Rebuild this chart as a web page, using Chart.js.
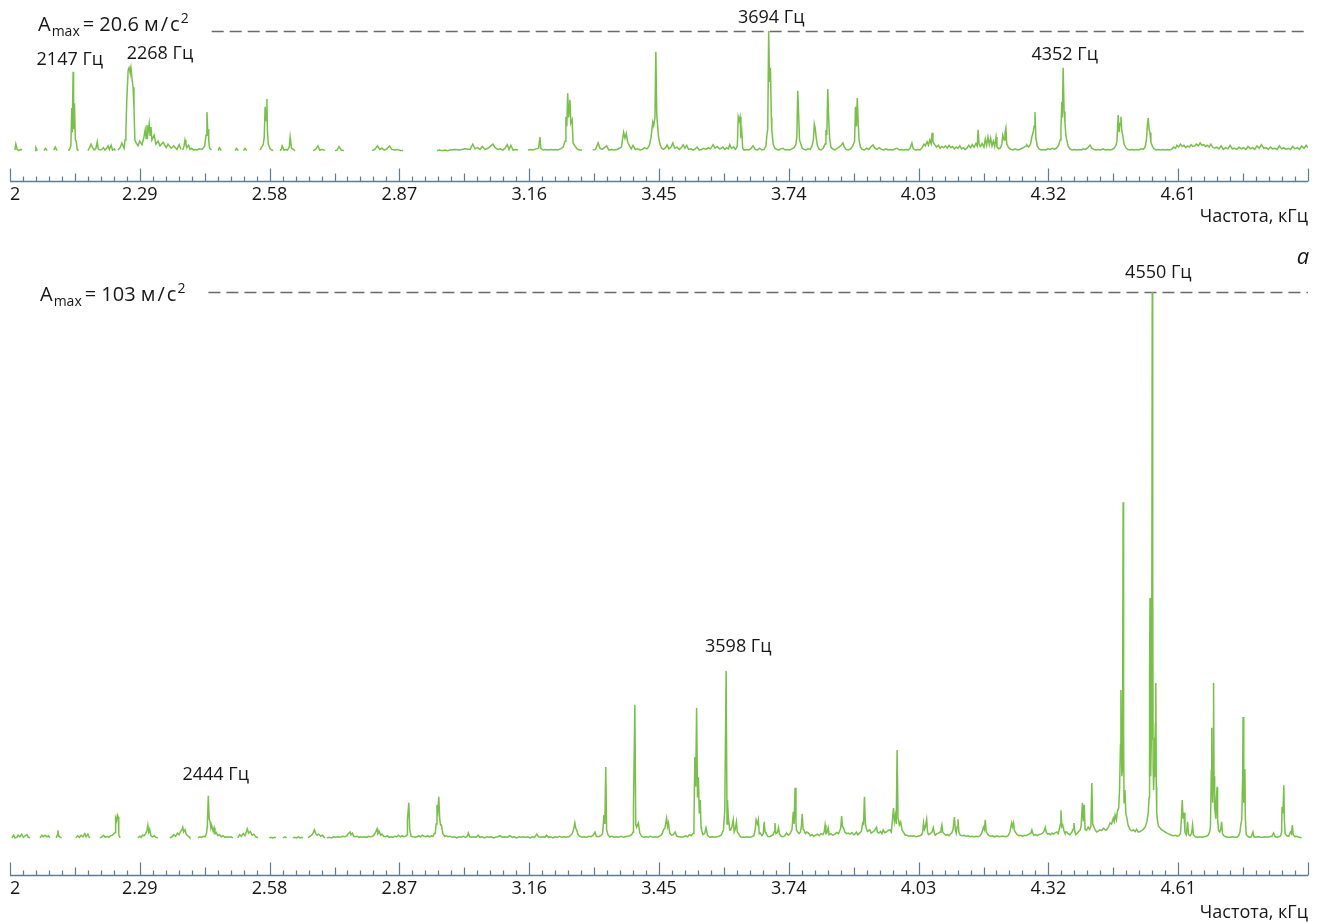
<!DOCTYPE html>
<html lang="ru">
<head>
<meta charset="utf-8">
<title>Спектры ускорений</title>
<script src="https://cdn.jsdelivr.net/npm/chart.js@4.4.1/dist/chart.umd.min.js"></script>
<style>
  html, body { margin: 0; padding: 0; background: #fff; overflow: hidden; }
  .panel { position: absolute; left: 0; width: 1319px; }
  #topPanel { top: 0; height: 235px; }
  #bottomPanel { top: 240px; height: 690px; }
</style>
</head>
<body>
<div class="panel" id="topPanel"><canvas id="topChart"></canvas></div>
<div class="panel" id="bottomPanel"><canvas id="bottomChart"></canvas></div>
<script>
// x axis, kHz
const freqMin = 2;
const freqMax = 4.9;
const tickStep = 0.029;
const tickLabels = ['2', '2.29', '2.58', '2.87', '3.16', '3.45', '3.74', '4.03', '4.32', '4.61'];
const axisTitle = 'Частота, кГц';

// peak amplitudes, m/s^2
const topAmax = 20.6;
const bottomAmax = 103;

// labelled peaks, Hz
const topPeaks = [2147, 2268, 3694, 4352];
const bottomPeaks = [2444, 3598, 4550];

// spectrum traces: [Hz, m/s^2], null = no data
const topTrace = [
  [2011,0.5],[2013,1.5],[2016,0.6],[2020,0.4],[2024,0.6],[2027,0.5],[2028,null],
  [2056,0.4],[2058,0.9],[2061,0.4],[2062,null],
  [2076,0.4],[2079,0.8],[2083,0.4],[2084,null],
  [2098,0.5],[2101,1.0],[2105,0.4],[2106,null],
  [2130,0.4],[2133,0.6],[2136,1.2],[2138,7.6],[2139,3.5],[2141,13.7],[2142,4.0],[2144,8.4],[2146,2.2],[2148,2.0],[2150,0.6],[2153,0.4],[2154,null],
  [2174,0.4],[2178,0.9],[2181,1.5],[2184,1.0],[2188,0.5],[2192,0.8],[2195,1.9],[2197,0.7],[2201,0.5],[2205,0.6],[2209,0.9],[2212,0.5],[2216,0.8],[2219,1.2],[2222,0.6],[2226,1.3],[2229,0.5],[2233,0.7],[2235,0.4],[2236,null],
  [2241,0.5],[2246,0.9],[2250,1.7],[2255,0.8],[2257,2.2],[2259,3.9],[2261,9.0],[2264,14.0],[2266,14.4],[2268,13.7],[2270,14.5],[2273,12.3],[2275,11.1],[2277,7.6],[2279,2.2],[2282,1.7],[2286,1.2],[2290,2.0],[2295,1.4],[2299,2.6],[2302,3.9],[2304,2.5],[2306,4.7],[2308,3.2],[2311,5.0],[2313,3.0],[2315,4.4],[2317,2.2],[2322,3.0],[2326,1.5],[2331,2.0],[2335,1.2],[2342,1.8],[2349,0.9],[2353,1.5],[2360,0.8],[2366,1.2],[2373,0.6],[2378,1.4],[2382,0.6],[2384,null],
  [2386,0.5],[2389,1.2],[2391,2.2],[2393,1.5],[2396,1.0],[2399,1.3],[2402,0.6],[2406,0.8],[2410,0.5],[2413,0.6],[2418,0.5],[2423,0.7],[2429,0.6],[2435,1.2],[2438,3.0],[2440,6.9],[2442,3.4],[2443,4.0],[2444,2.0],[2446,0.8],[2450,0.5],[2451,null],
  [2465,0.4],[2468,0.9],[2472,0.4],[2473,null],
  [2503,0.4],[2506,0.8],[2510,0.4],[2514,null],[2522,0.4],[2525,0.8],[2529,0.4],[2530,null],
  [2559,0.5],[2562,1.0],[2564,1.2],[2566,1.5],[2568,2.6],[2570,7.8],[2572,5.5],[2574,9.1],[2575,4.0],[2577,1.5],[2581,0.7],[2585,0.5],[2588,0.4],[2589,null],
  [2603,0.4],[2606,0.6],[2608,1.2],[2612,0.5],[2616,0.6],[2620,0.5],[2624,1.0],[2626,2.7],[2629,0.8],[2633,0.6],[2637,0.4],[2638,null],
  [2677,0.4],[2683,0.6],[2688,1.2],[2692,0.5],[2698,0.6],[2704,0.4],[2705,null],
  [2726,0.4],[2731,0.5],[2735,1.1],[2740,0.5],[2746,0.4],[2747,null],
  [2809,0.4],[2815,0.6],[2821,1.2],[2826,0.6],[2831,0.8],[2836,0.5],[2842,0.7],[2848,1.2],[2853,0.6],[2860,0.5],[2866,0.6],[2872,0.4],[2878,0.4],[2879,null],
  [2954,0.4],[2960,0.5],[2966,0.4],[2972,0.5],[2978,0.4],[2983,0.5],[2994,0.6],[3005,0.5],[3016,0.7],[3028,0.6],[3034,1.5],[3039,0.7],[3045,0.9],[3050,0.6],[3055,1.1],[3061,0.6],[3068,0.8],[3074,1.2],[3079,1.5],[3084,0.9],[3090,0.6],[3095,0.7],[3101,0.5],[3106,0.8],[3111,1.4],[3115,0.6],[3119,1.3],[3124,0.5],[3130,0.6],[3135,0.5],[3136,null],
  [3157,0.5],[3163,0.6],[3169,0.5],[3175,0.7],[3181,0.8],[3184,2.7],[3186,0.8],[3191,0.5],[3196,0.6],[3202,0.5],[3208,0.6],[3213,0.5],[3218,0.6],[3224,0.5],[3230,0.7],[3236,1.0],[3240,2.0],[3242,6.1],[3244,4.5],[3246,10.1],[3248,6.0],[3251,9.0],[3253,5.0],[3256,5.6],[3258,1.7],[3262,1.2],[3267,0.7],[3272,0.5],[3278,0.5],[3280,null],
  [3302,0.5],[3308,0.6],[3314,1.7],[3318,0.8],[3323,0.6],[3328,0.9],[3333,1.2],[3338,0.5],[3344,0.6],[3350,0.5],[3356,0.6],[3362,0.8],[3366,1.0],[3369,2.5],[3371,3.5],[3374,2.5],[3377,3.3],[3380,1.8],[3384,1.2],[3388,0.7],[3392,1.3],[3397,0.6],[3402,0.7],[3408,0.5],[3413,0.6],[3418,0.9],[3423,0.7],[3428,1.2],[3432,2.5],[3436,5.2],[3438,4.6],[3441,6.0],[3443,17.1],[3445,6.4],[3447,4.5],[3449,2.7],[3452,1.5],[3456,0.8],
  [3460,0.6],[3465,0.9],[3468,1.35],[3472,0.7],[3477,1.0],[3481,1.7],[3485,0.8],[3490,1.0],[3495,0.6],[3500,0.9],[3504,1.4],[3508,0.8],[3512,1.3],[3516,0.6],[3521,0.7],[3526,0.5],[3531,0.7],[3535,1.0],[3540,0.5],[3545,0.6],[3550,0.8],[3555,0.6],[3560,0.9],[3565,0.7],[3571,1.4],[3575,0.8],[3580,1.1],[3585,0.7],[3589,0.8],[3593,1.0],[3597,0.6],[3601,0.9],[3605,0.7],[3608,1.4],[3612,0.8],[3617,1.0],[3621,0.6],[3625,1.2],[3627,6.1],[3629,5.5],[3631,6.1],[3633,2.5],[3635,3.5],[3637,0.8],[3640,0.5],
  [3645,0.6],[3650,0.5],[3655,0.7],[3660,1.2],[3665,0.6],[3670,0.5],[3675,0.8],[3680,0.5],[3685,0.6],[3689,1.2],[3691,3.0],[3693,4.0],[3695,20.6],[3697,12.0],[3699,14.4],[3701,6.0],[3702,3.9],[3705,1.5],[3709,0.8],[3713,0.6],
  [3718,0.5],[3722,0.7],[3727,0.8],[3732,0.5],[3737,0.6],[3742,0.5],[3747,0.7],[3752,0.9],[3756,1.5],[3758,2.7],[3760,10.5],[3762,6.5],[3764,2.2],[3767,1.5],[3770,0.8],[3774,0.6],[3778,0.5],[3783,0.7],[3788,0.6],[3792,1.2],[3795,2.2],[3797,4.9],[3799,4.2],[3801,2.7],[3804,1.2],[3808,0.6],[3812,0.5],
  [3817,0.8],[3821,1.5],[3823,3.9],[3825,3.0],[3827,10.8],[3829,6.0],[3831,2.7],[3834,1.0],[3838,0.7],[3843,0.5],[3848,0.8],[3852,1.0],[3857,1.3],[3861,1.7],[3864,1.0],[3868,0.6],[3873,0.5],[3878,0.7],[3883,1.2],[3887,2.0],[3889,7.8],[3891,4.5],[3893,9.3],[3895,5.0],[3897,2.2],[3900,1.0],[3904,0.6],[3909,0.5],
  [3914,0.8],[3919,0.6],[3923,1.0],[3928,1.35],[3932,0.8],[3937,0.6],[3942,0.9],[3947,0.6],[3952,0.5],[3957,0.7],[3962,0.5],[3967,0.6],[3972,0.5],[3977,0.7],[3982,0.8],[3987,0.5],[3992,0.6],[3997,0.5],[4002,0.6],[4007,0.5],[4011,0.8],[4015,1.7],[4018,0.7],[4023,0.5],[4028,0.6],[4033,0.5],[4038,0.9],[4042,1.5],[4045,1.2],[4049,1.9],[4052,1.3],[4055,2.2],[4058,1.6],[4060,3.4],[4062,1.9],[4066,1.4],[4070,1.0],[4074,1.3],[4078,0.8],[4082,1.1],[4086,0.9],[4090,1.2],[4094,0.8],[4098,1.3],[4102,0.9],[4106,1.1],[4110,0.7],[4114,1.0],[4118,0.8],[4122,1.2],[4126,0.7],[4130,0.9],[4134,0.6],[4138,0.8],[4142,1.3],[4146,0.9],[4150,1.4],[4154,1.0],[4158,1.6],[4161,1.2],[4163,3.9],[4165,1.5],[4168,1.1],[4172,1.6],[4176,1.0],[4179,2.4],[4182,1.3],[4185,2.7],[4188,1.4],[4191,2.5],[4194,1.2],[4197,2.0],[4200,1.1],[4203,2.7],[4205,1.0],[4209,0.7],[4213,0.9],[4216,1.5],[4218,3.0],[4221,2.2],[4223,3.4],[4225,4.2],[4227,1.5],[4231,0.9],[4236,0.6],[4241,0.5],[4246,0.7],[4251,0.5],[4256,0.6],[4261,0.8],[4266,1.0],[4270,1.2],[4272,1.35],[4276,1.0],[4280,1.5],[4283,2.7],[4286,3.5],[4288,4.5],[4290,6.9],[4292,2.5],[4295,1.2],[4299,0.7],
  [4304,0.5],[4309,0.6],[4314,0.5],[4319,0.7],[4324,0.6],[4329,0.8],[4334,0.6],[4339,0.9],[4343,1.3],[4346,2.2],[4348,4.0],[4350,8.6],[4351,6.0],[4353,14.4],[4355,7.0],[4357,5.1],[4359,3.0],[4361,2.2],[4364,1.2],[4368,0.7],[4373,0.5],[4378,0.6],[4383,0.5],[4388,0.6],[4393,0.5],[4398,0.7],[4403,0.6],[4408,0.9],[4413,1.35],[4417,0.8],[4422,0.6],[4427,0.5],[4432,0.6],[4437,0.5],[4442,0.7],[4447,0.5],[4452,0.6],[4457,0.5],[4462,0.6],[4467,0.8],[4471,1.3],[4473,1.9],[4475,5.0],[4476,6.4],[4478,3.5],[4480,5.0],[4482,6.1],[4484,3.8],[4486,3.0],[4489,1.5],[4493,0.9],[4497,0.6],
  [4502,0.5],[4507,0.6],[4512,0.5],[4517,0.6],[4522,0.5],[4527,0.7],[4532,0.6],[4536,1.0],[4539,2.2],[4541,4.5],[4543,5.9],[4545,4.0],[4547,3.4],[4549,1.8],[4552,1.2],[4556,0.7],[4561,0.5],[4566,0.6],[4571,0.5],[4576,0.6],[4581,0.5],[4586,0.6],[4591,0.5],[4596,0.7],[4600,1.0],[4604,0.8],[4607,1.3],[4611,1.0],[4615,1.5],[4619,1.1],[4623,1.3],[4627,0.9],[4631,1.2],[4635,1.0],[4639,1.4],[4643,1.1],[4647,1.2],[4651,1.5],[4655,1.2],[4659,1.7],[4663,1.3],[4667,1.4],[4671,1.1],[4675,1.3],[4679,1.0],[4683,1.5],[4687,1.0],[4691,0.8],[4696,1.0],
  [4701,0.7],[4706,1.2],[4711,0.6],[4716,0.9],[4721,0.7],[4726,1.3],[4731,0.7],[4736,0.8],[4741,0.6],[4746,1.0],[4751,0.7],[4756,0.9],[4761,0.6],[4766,1.1],[4771,0.7],[4776,0.9],[4781,0.6],[4786,1.2],[4791,0.8],[4796,1.4],[4801,0.8],[4806,0.9],[4811,0.6],[4816,1.0],[4821,0.7],[4826,0.8],[4831,0.6],[4836,1.2],[4841,0.7],[4846,0.9],[4851,0.6],[4856,0.8],[4861,0.6],[4866,1.1],[4871,0.7],[4876,0.9],[4881,0.6],[4886,1.2],[4891,0.8],[4896,1.3],[4900,0.9]
];

const bottomTrace = [
  [2004,0.4],[2008,0.9],[2011,0.4],[2015,0.5],[2018,0.9],[2022,0.6],[2026,1.1],[2030,0.5],[2034,0.8],[2038,1.0],[2041,0.5],[2045,0.4],[2046,null],
  [2067,0.4],[2071,0.9],[2074,0.6],[2078,0.9],[2082,0.6],[2086,0.8],[2089,0.4],[2090,null],
  [2103,0.4],[2106,1.0],[2107,1.8],[2109,0.7],[2113,0.5],[2116,0.4],[2117,null],
  [2147,0.4],[2151,0.8],[2155,0.5],[2159,0.9],[2163,0.6],[2167,1.2],[2170,0.6],[2174,1.1],[2177,0.5],[2179,0.4],[2180,null],
  [2201,0.4],[2205,0.6],[2209,0.9],[2213,0.5],[2217,0.7],[2221,0.5],[2225,0.8],[2229,0.9],[2232,1.2],[2235,1.4],[2236,4.1],[2238,3.6],[2240,4.7],[2242,4.3],[2243,1.0],[2246,0.4],[2247,null],
  [2286,0.4],[2290,0.7],[2293,0.5],[2296,0.9],[2300,0.8],[2303,1.2],[2306,1.8],[2308,2.8],[2310,1.5],[2312,2.0],[2315,0.8],[2318,0.6],[2322,0.8],[2326,0.5],[2331,0.4],[2332,null],
  [2357,0.4],[2362,0.6],[2366,1.0],[2370,0.7],[2374,1.3],[2378,1.0],[2381,1.6],[2384,1.9],[2386,2.4],[2388,1.5],[2391,1.9],[2394,1.0],[2397,0.8],[2400,0.6],[2402,0.4],[2403,null],
  [2420,0.4],[2424,0.6],[2428,0.5],[2432,0.7],[2436,0.6],[2439,1.2],[2441,2.8],[2443,8.3],[2445,4.0],[2447,3.4],[2449,2.2],[2451,2.6],[2454,1.6],[2456,2.3],[2458,1.2],[2461,1.4],[2464,0.8],[2468,1.0],[2472,0.6],[2476,0.8],[2480,0.5],[2485,0.6],[2490,0.5],[2494,0.6],[2498,0.4],[2499,null],
  [2509,0.4],[2513,1.0],[2517,0.7],[2521,1.2],[2525,0.8],[2528,1.5],[2530,2.1],[2533,1.3],[2537,1.6],[2541,0.9],[2545,1.1],[2549,0.6],[2554,0.4],[2555,null],
  [2579,0.4],[2583,0.5],[2587,0.4],[2591,0.5],[2594,0.4],[2595,null],
  [2610,0.4],[2614,0.6],[2618,0.4],[2619,null],
  [2632,0.4],[2636,0.5],[2640,0.4],[2644,0.6],[2648,0.4],[2652,0.5],[2655,0.4],[2656,null],
  [2666,0.4],[2670,0.7],[2674,0.9],[2677,1.3],[2680,1.9],[2683,1.2],[2686,0.9],[2690,1.1],[2694,0.7],[2698,0.9],[2702,0.5],[2704,0.4],[2705,null],
  [2708,0.4],[2713,0.5],[2718,0.4],[2723,0.6],[2728,0.5],[2733,0.6],[2738,0.5],[2743,0.7],[2748,0.6],[2753,0.8],[2756,1.2],[2760,1.5],[2762,1.0],[2765,1.3],[2768,0.7],[2772,0.6],[2776,0.7],[2780,0.5],[2784,0.6],[2788,0.5],[2792,0.6],[2797,0.5],[2801,0.7],[2805,0.6],[2810,0.7],[2814,1.0],[2817,1.5],[2820,2.1],[2822,1.2],[2825,1.6],[2828,0.9],[2831,1.1],[2835,0.7],[2839,0.6],[2843,0.8],[2847,0.5],[2851,0.6],[2855,0.5],[2860,0.7],[2864,0.6],[2868,0.9],[2872,0.6],[2876,0.8],[2880,0.6],[2884,0.7],[2887,1.0],[2888,3.8],[2891,7.0],[2893,2.0],[2896,0.7],
  [2900,0.6],[2905,0.5],[2909,0.6],[2913,0.8],[2917,0.6],[2921,0.9],[2925,0.7],[2929,0.6],[2933,0.8],[2937,0.6],[2941,0.8],[2945,0.7],[2948,1.2],[2950,1.2],[2952,3.0],[2954,6.6],[2956,5.5],[2958,8.1],[2960,4.0],[2962,2.8],[2964,2.8],[2967,1.2],[2971,0.7],[2975,0.8],[2979,0.6],[2983,0.7],
  [2988,0.5],[2993,0.6],[2998,0.4],[3003,0.6],[3008,0.5],[3013,0.7],[3018,0.5],[3022,0.8],[3024,1.3],[3027,0.6],[3032,0.5],[3036,0.6],[3041,0.5],[3046,0.9],[3050,0.5],[3055,0.6],[3060,0.4],[3065,0.6],[3070,0.5],[3075,0.6],[3080,0.4],[3085,0.5],[3090,0.6],[3095,0.8],[3100,0.5],[3105,0.6],[3110,0.5],[3117,0.8],[3122,0.5],[3127,0.6],[3132,0.4],[3137,0.6],[3142,0.5],[3147,0.6],[3152,0.5],[3157,0.6],[3162,0.4],[3167,0.6],[3172,0.5],[3177,1.1],[3181,0.6],[3186,0.5],[3191,0.6],[3195,0.5],[3199,0.9],
  [3203,0.5],[3208,0.6],[3213,0.4],[3218,0.6],[3223,0.5],[3228,0.7],[3233,0.5],[3238,0.6],[3243,0.5],[3248,0.6],[3252,0.8],[3256,1.2],[3259,1.9],[3262,3.2],[3264,2.2],[3266,1.9],[3269,1.0],[3273,0.7],[3278,0.5],[3283,0.6],[3288,0.5],[3293,0.7],[3298,0.6],[3303,0.9],[3307,1.5],[3310,0.7],[3315,0.6],[3320,0.8],[3324,1.2],[3327,4.7],[3329,3.0],[3331,13.7],[3333,1.9],[3336,1.0],[3340,0.6],[3345,0.7],[3350,0.5],[3355,0.6],[3360,0.5],[3365,0.7],[3370,0.5],[3375,0.6],[3380,0.7],[3385,0.8],[3389,1.0],[3392,1.5],[3393,6.6],[3396,25.4],[3398,3.0],[3400,2.4],[3402,2.8],[3404,3.2],[3407,1.3],
  [3411,0.7],[3416,0.5],[3421,0.6],[3426,0.5],[3431,0.7],[3436,0.5],[3441,0.6],[3446,0.5],[3451,0.7],[3456,1.0],[3460,1.9],[3463,2.2],[3467,4.1],[3469,2.5],[3471,3.2],[3474,1.3],[3478,0.9],[3482,1.0],[3486,1.5],[3490,0.7],[3495,0.6],[3500,0.5],[3505,0.6],[3510,0.8],[3514,0.6],[3518,1.0],[3522,0.8],[3526,1.2],[3528,2.0],[3530,15.6],[3532,10.0],[3534,24.8],[3536,8.0],[3538,11.8],[3540,5.0],[3542,7.5],[3544,2.5],[3545,1.9],[3548,1.0],[3552,1.2],[3555,2.3],[3558,1.0],[3561,0.7],[3564,0.5],[3569,0.6],[3574,0.5],[3579,0.6],[3584,0.7],[3589,0.9],[3594,1.9],[3597,5.6],[3600,31.8],[3602,3.0],[3603,7.5],[3605,4.1],[3608,1.9],
  [3610,1.9],[3613,2.5],[3616,3.8],[3618,1.5],[3620,1.9],[3623,3.4],[3625,1.5],[3627,1.3],[3632,0.6],[3637,0.5],[3642,0.5],[3647,0.6],[3652,0.5],[3657,0.6],[3662,0.8],[3665,2.0],[3667,3.8],[3670,3.0],[3672,3.8],[3674,1.2],[3676,1.3],[3680,0.8],[3683,1.2],[3685,3.4],[3687,1.5],[3689,1.3],[3693,0.7],[3697,0.6],[3701,0.8],[3705,1.0],[3707,1.5],[3709,3.2],[3711,1.2],[3713,1.3],[3715,1.5],[3717,2.3],[3719,1.2],[3723,0.7],[3727,0.6],[3731,0.8],[3735,1.3],[3739,0.9],[3743,1.2],[3747,1.9],[3750,5.3],[3752,3.0],[3754,9.8],[3756,3.5],[3757,1.9],[3760,1.5],[3763,1.2],[3766,1.5],[3768,2.5],[3770,4.9],[3772,2.0],[3774,1.9],[3777,1.2],[3780,1.5],[3784,1.3],[3788,0.8],[3792,1.0],[3796,0.7],
  [3800,0.9],[3804,1.1],[3808,0.8],[3812,1.2],[3816,1.0],[3819,1.5],[3821,2.8],[3823,1.2],[3825,1.3],[3828,2.3],[3830,1.0],[3834,1.2],[3838,0.9],[3843,1.1],[3847,1.4],[3851,1.2],[3854,1.8],[3856,2.2],[3858,4.5],[3860,2.5],[3862,2.4],[3865,1.5],[3869,1.2],[3873,1.3],[3877,1.1],[3881,1.4],[3885,1.0],[3889,1.2],[3891,1.5],[3894,1.0],[3898,1.3],[3902,1.6],[3905,3.2],[3907,3.0],[3909,8.1],[3911,3.2],[3913,2.2],[3916,1.6],[3919,1.8],[3921,1.9],[3924,1.3],[3928,1.5],[3932,1.8],[3934,2.2],[3936,2.4],[3938,1.5],[3941,1.3],[3945,1.6],[3948,1.2],[3951,1.9],[3954,1.4],[3958,1.5],[3962,1.8],[3966,1.9],[3969,1.5],[3972,4.1],[3974,6.0],[3976,3.5],[3979,5.0],[3980,3.0],[3982,16.9],[3984,4.0],[3985,3.8],[3987,2.8],[3990,3.4],[3993,1.9],[3996,1.5],
  [4000,0.9],[4004,0.9],[4008,0.7],[4012,0.8],[4016,0.7],[4020,0.8],[4024,0.6],[4028,0.7],[4033,0.8],[4037,1.0],[4039,1.5],[4041,3.2],[4043,2.0],[4045,2.4],[4048,3.9],[4050,1.5],[4052,1.0],[4056,1.2],[4060,1.5],[4063,2.3],[4065,1.3],[4067,0.9],[4071,1.2],[4074,1.3],[4078,1.5],[4080,2.0],[4082,2.8],[4084,1.5],[4087,1.2],[4090,0.9],[4094,1.0],[4098,0.8],[4102,1.2],[4104,1.3],[4107,2.0],[4110,4.3],[4112,2.0],[4114,1.3],[4116,2.5],[4118,3.9],[4120,1.5],[4123,0.9],[4127,0.8],[4131,0.9],[4136,0.7],[4141,0.8],[4145,0.6],[4149,0.7],[4154,0.6],[4159,0.7],[4164,0.6],[4168,0.9],[4171,1.3],[4175,2.4],[4177,2.0],[4179,3.8],[4181,1.5],[4183,1.3],[4186,0.9],[4190,0.7],[4195,0.8],
  [4200,0.6],[4205,0.8],[4210,0.6],[4215,0.7],[4220,0.7],[4225,0.6],[4230,0.8],[4234,1.5],[4236,2.4],[4238,3.2],[4240,2.5],[4242,3.2],[4244,1.8],[4246,1.5],[4250,1.0],[4254,0.8],[4258,0.9],[4262,0.7],[4266,0.9],[4270,0.8],[4274,1.0],[4279,1.2],[4281,1.4],[4283,1.9],[4285,1.3],[4287,0.9],[4291,1.0],[4295,0.8],[4299,1.0],[4303,1.1],[4307,1.3],[4310,1.6],[4313,2.4],[4315,1.5],[4318,1.1],[4321,1.2],[4324,1.0],[4328,1.3],[4332,1.1],[4336,1.4],[4339,1.5],[4342,1.2],[4345,2.3],[4347,3.0],[4348,5.6],[4350,2.5],[4352,2.8],[4355,1.7],[4357,1.3],[4361,1.5],[4364,1.2],[4368,1.0],[4372,1.4],[4375,2.0],[4377,3.2],[4379,1.6],[4381,1.0],[4385,1.3],[4388,1.6],[4391,1.9],[4393,2.5],[4396,7.0],[4398,3.5],
  [4400,6.6],[4402,2.0],[4405,1.8],[4409,2.4],[4412,2.0],[4415,2.6],[4417,10.7],[4419,3.0],[4422,2.4],[4425,1.8],[4428,1.5],[4432,1.7],[4435,1.9],[4439,1.8],[4443,2.2],[4447,1.9],[4450,1.9],[4454,2.4],[4458,3.2],[4461,3.0],[4465,4.1],[4467,3.5],[4469,4.7],[4472,3.8],[4474,5.3],[4477,6.0],[4479,9.4],[4481,18.0],[4482,28.2],[4484,12.0],[4485,13.0],[4486,30.0],[4487,63.5],[4488,20.0],[4489,7.0],[4491,9.4],[4493,5.0],[4495,4.3],[4498,2.8],
  [4502,2.0],[4506,1.7],[4510,1.9],[4514,1.6],[4517,2.0],[4521,1.5],[4525,1.6],[4529,1.8],[4532,2.0],[4536,2.4],[4540,3.4],[4543,5.1],[4545,8.0],[4546,30.0],[4547,45.5],[4548,25.0],[4549,12.0],[4550,19.0],[4551,40.0],[4552,103],[4553,50.0],[4554,14.0],[4555,9.4],[4556,12.0],[4557,19.2],[4558,14.0],[4559,22.0],[4560,29.5],[4561,10.0],[4562,5.1],[4564,3.5],[4566,2.6],[4569,2.3],[4573,1.9],[4577,1.7],[4581,1.5],[4585,1.3],[4590,1.1],[4595,0.9],
  [4600,0.8],[4604,0.9],[4608,0.7],[4612,0.8],[4615,1.2],[4617,3.8],[4619,7.5],[4621,4.0],[4623,5.1],[4625,1.5],[4628,1.0],[4631,3.4],[4633,1.0],[4637,0.8],[4640,1.3],[4642,2.8],[4644,1.0],[4648,0.6],[4653,0.5],[4658,0.6],[4663,0.5],[4668,0.6],[4673,0.7],[4677,0.9],[4680,1.5],[4682,2.4],[4684,13.0],[4685,21.1],[4686,10.0],[4687,7.0],[4688,15.0],[4689,29.5],[4690,12.0],[4691,6.0],[4692,6.0],[4694,4.0],[4695,7.5],[4697,10.0],[4698,4.0],
  [4700,1.8],[4703,1.5],[4705,2.0],[4707,3.4],[4709,1.2],[4712,0.8],[4716,0.6],[4721,0.5],[4726,0.5],[4731,0.6],[4736,0.5],[4741,0.5],[4745,0.8],[4748,1.5],[4750,3.0],[4752,3.8],[4754,12.0],[4755,23.1],[4756,10.0],[4757,7.0],[4759,13.3],[4760,4.0],[4762,1.0],[4765,0.7],[4769,0.5],[4773,0.6],[4777,1.5],[4779,0.6],[4784,0.5],[4789,0.6],[4794,0.5],[4799,0.5],
  [4804,0.6],[4809,0.5],[4814,0.6],[4819,0.7],[4823,1.3],[4826,0.7],[4830,0.5],[4835,0.6],[4839,0.8],[4841,1.5],[4842,6.2],[4844,5.0],[4846,10.3],[4847,4.0],[4849,1.2],[4853,0.8],[4857,0.7],[4861,1.5],[4863,1.2],[4865,2.8],[4867,1.0],[4871,0.6],[4875,0.7],[4880,0.5],[4886,0.4]
];

const FONT = '"Open Sans", "Noto Sans", sans-serif';
const TEXT_COLOR = '#161616';
const AXIS_COLOR = '#5c7c93';
const LINE_COLOR = '#77c146';
const DASH_COLOR = '#6a6a6a';

Chart.defaults.font.family = FONT;
Chart.defaults.color = TEXT_COLOR;

// A_max note, dashed max line, peak labels and the tick ruler
const decorPlugin = {
  id: 'decor',
  beforeDatasetsDraw(chart, args, opts) {
    const ctx = chart.ctx;
    const xs = chart.scales.x;
    const ys = chart.scales.y;
    const yMax = Math.round(ys.getPixelForValue(opts.amax)) + 0.5;

    ctx.save();
    ctx.fillStyle = TEXT_COLOR;
    ctx.textAlign = 'left';
    ctx.textBaseline = 'alphabetic';
    let x = opts.noteX;
    const base = yMax + opts.noteDy;
    const big = `${opts.noteSize}px ${FONT}`;
    const small = `${opts.noteSize - 6}px ${FONT}`;
    ctx.font = big;
    ctx.fillText('A', x, base);
    x += ctx.measureText('A').width + 1;
    ctx.font = small;
    ctx.fillText('max', x, base + 5);
    x += ctx.measureText('max').width + 3;
    const main = `= ${opts.amax} м\u200a/\u200aс`;
    ctx.font = big;
    ctx.fillText(main, x, base);
    x += ctx.measureText(main).width + 1;
    ctx.font = small;
    ctx.fillText('2', x, base - 8);
    x += ctx.measureText('2').width;

    ctx.strokeStyle = DASH_COLOR;
    ctx.lineWidth = 1.6;
    ctx.setLineDash([12, 6]);
    ctx.beginPath();
    ctx.moveTo(x + 23, yMax);
    ctx.lineTo(xs.right, yMax);
    ctx.stroke();
    ctx.restore();
  },
  afterDraw(chart, args, opts) {
    const ctx = chart.ctx;
    const xs = chart.scales.x;
    const axisY = Math.round(chart.chartArea.bottom) + 0.5;

    ctx.save();
    ctx.strokeStyle = AXIS_COLOR;
    ctx.lineWidth = 1.6;
    ctx.beginPath();
    ctx.moveTo(xs.left, axisY);
    ctx.lineTo(xs.right, axisY);
    ctx.stroke();
    ctx.lineWidth = 1.2;
    xs.ticks.forEach((t, i) => {
      const px = Math.round(xs.getPixelForTick(i)) + 0.5;
      const len = i % 10 === 0 ? 13 : (i % 5 === 0 ? 8 : 5);
      ctx.beginPath();
      ctx.moveTo(px, axisY);
      ctx.lineTo(px, axisY - len);
      ctx.stroke();
    });

    ctx.fillStyle = TEXT_COLOR;
    ctx.font = `18px ${FONT}`;
    ctx.textAlign = 'center';
    ctx.textBaseline = 'middle';
    opts.peaks.forEach((hz, i) => {
      const [dx, cy] = opts.peakPos[i];
      ctx.fillText(`${hz} Гц`, xs.getPixelForValue(hz / 1000) + dx, cy);
    });

    if (opts.letter) {
      ctx.font = `italic 22px ${FONT}`;
      ctx.fillText(opts.letter, opts.letterPos[0], opts.letterPos[1]);
    }
    ctx.restore();
  }
};

function toPoints(trace) {
  return trace.map(([hz, a]) => ({ x: hz / 1000, y: a }));
}

function makeChart(canvasId, trace, yMin, yMax, axisHeight, titlePad, padTop, decor) {
  return new Chart(document.getElementById(canvasId), {
    type: 'line',
    data: {
      datasets: [{
        data: toPoints(trace),
        borderColor: LINE_COLOR,
        borderWidth: 1.5,
        pointRadius: 0,
        tension: 0,
        spanGaps: false,
        fill: false
      }]
    },
    options: {
      responsive: true,
      maintainAspectRatio: false,
      animation: false,
      events: [],
      layout: { padding: { left: 10, right: 11, top: padTop, bottom: 0 } },
      plugins: {
        legend: { display: false },
        tooltip: { enabled: false },
        decor: decor
      },
      scales: {
        x: {
          type: 'linear',
          min: freqMin,
          max: freqMax,
          grid: { display: false, drawTicks: false },
          border: { display: false },
          ticks: {
            stepSize: tickStep,
            autoSkip: false,
            maxRotation: 0,
            minRotation: 0,
            align: 'inner',
            padding: 3,
            color: TEXT_COLOR,
            font: { size: 18 },
            callback: (v, i) => (i % 10 === 0 && tickLabels[i / 10]) ? tickLabels[i / 10] : ''
          },
          title: {
            display: true,
            text: axisTitle,
            align: 'end',
            color: TEXT_COLOR,
            font: { size: 18 },
            padding: { top: 0, bottom: titlePad }
          },
          afterFit: (scale) => { scale.height = axisHeight; }
        },
        y: { display: false, min: yMin, max: yMax }
      }
    },
    plugins: [decorPlugin]
  });
}

makeChart('topChart', topTrace, -4.73, topAmax, 54, 7, 31, {
  amax: topAmax, noteX: 38, noteDy: -1, noteSize: 20,
  peaks: topPeaks,
  peakPos: [[-6, 60], [30, 54], [3, 18], [2, 55]]
});

makeChart('bottomChart', bottomTrace, -6.58, bottomAmax, 55, 6, 52, {
  amax: bottomAmax, noteX: 40, noteDy: 8, noteSize: 20,
  peaks: bottomPeaks,
  peakPos: [[7, 535], [13, 407], [7, 33]],
  letter: 'a', letterPos: [1303, 18]
});
</script>
</body>
</html>
